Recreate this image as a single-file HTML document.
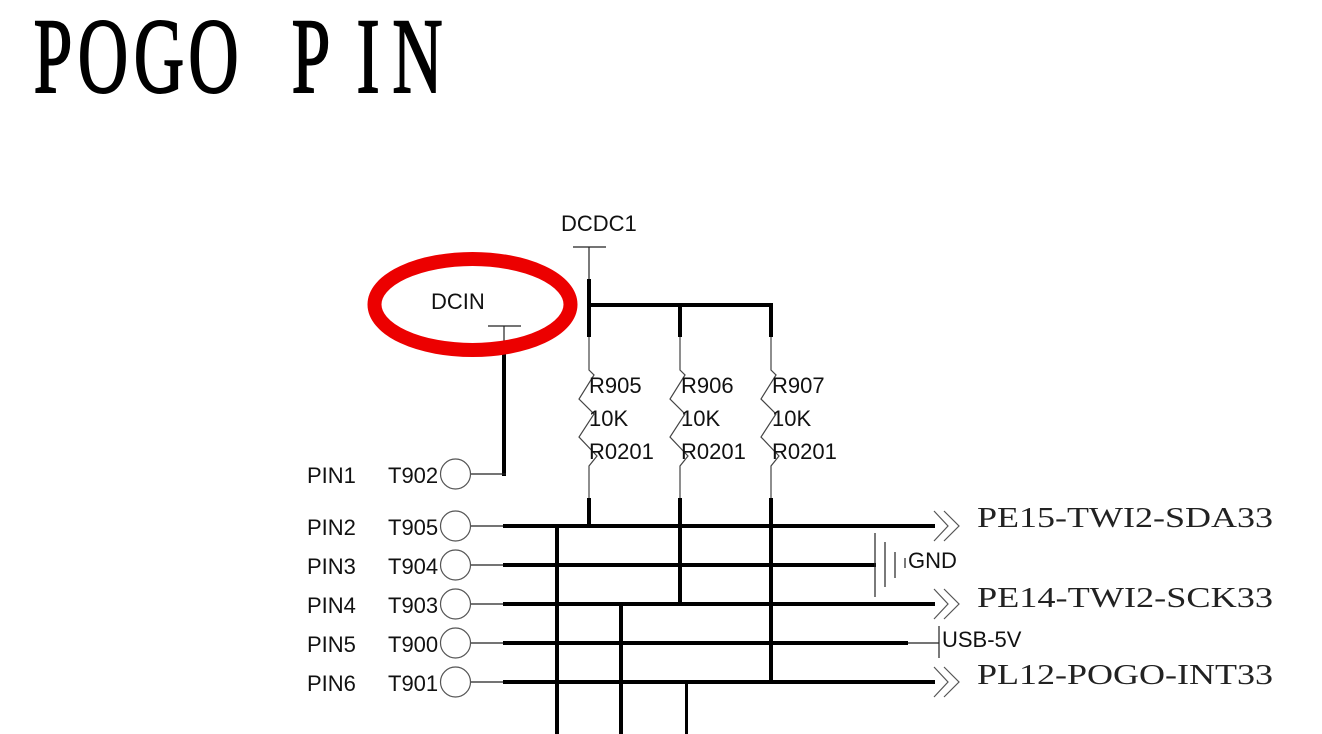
<!DOCTYPE html>
<html>
<head>
<meta charset="utf-8">
<style>
html,body{margin:0;padding:0;background:#fff;}
svg{display:block;}
.s{font-family:"Liberation Sans",Arial,sans-serif;font-size:22px;fill:#111;}
.n{font-family:"Liberation Serif","Times New Roman",serif;font-size:28px;fill:#222;}
.t{font-family:"Liberation Serif","Times New Roman",serif;font-size:107px;fill:#000;stroke:#000;stroke-width:2;}
</style>
</head>
<body>
<svg width="1322" height="734" viewBox="0 0 1322 734" xmlns="http://www.w3.org/2000/svg">
<rect width="1322" height="734" fill="#fff"/>
<!-- Title -->
<g transform="scale(0.65,1)" class="t" text-anchor="middle">
<text x="81.5" y="92">P</text>
<text x="158.5" y="92">O</text>
<text x="244.6" y="92">G</text>
<text x="328.5" y="92">O</text>
<text x="478.5" y="92">P</text>
<text x="566.2" y="92">I</text>
<text x="642.3" y="92">N</text>
</g>

<!-- DCDC1 -->
<text class="s" x="561" y="231">DCDC1</text>
<line x1="573" y1="247" x2="606" y2="247" stroke="#222" stroke-width="1.2"/>
<line x1="589" y1="247" x2="589" y2="280" stroke="#222" stroke-width="1.2"/>
<line x1="589" y1="279" x2="589" y2="337" stroke="#000" stroke-width="4"/>
<line x1="589" y1="305" x2="773" y2="305" stroke="#000" stroke-width="4"/>
<line x1="680" y1="305" x2="680" y2="337" stroke="#000" stroke-width="4"/>
<line x1="771" y1="305" x2="771" y2="337" stroke="#000" stroke-width="4"/>

<!-- Resistors -->
<g fill="none" stroke="#444" stroke-width="1.2">
<polyline points="589,337 589,370 594,375 579,399 594,414 579,437 597,456 589,466 589,498"/>
<polyline points="680,337 680,370 685,375 670,399 685,414 670,437 688,456 680,466 680,498"/>
<polyline points="771,337 771,370 776,375 761,399 776,414 761,437 779,456 771,466 771,498"/>
</g>
<line x1="589" y1="498" x2="589" y2="528" stroke="#000" stroke-width="4"/>
<line x1="680" y1="498" x2="680" y2="606" stroke="#000" stroke-width="4"/>
<line x1="771" y1="498" x2="771" y2="684" stroke="#000" stroke-width="4"/>

<text class="s" x="589" y="393">R905</text>
<text class="s" x="589" y="426">10K</text>
<text class="s" x="589" y="459">R0201</text>
<text class="s" x="681" y="393">R906</text>
<text class="s" x="681" y="426">10K</text>
<text class="s" x="681" y="459">R0201</text>
<text class="s" x="772" y="393">R907</text>
<text class="s" x="772" y="426">10K</text>
<text class="s" x="772" y="459">R0201</text>

<!-- DCIN -->
<text class="s" x="431" y="309">DCIN</text>
<line x1="488" y1="326" x2="521" y2="326" stroke="#222" stroke-width="1.2"/>
<line x1="504" y1="326" x2="504" y2="356" stroke="#222" stroke-width="1.2"/>
<line x1="504" y1="354" x2="504" y2="476" stroke="#000" stroke-width="4"/>
<line x1="471" y1="474" x2="506" y2="474" stroke="#222" stroke-width="1.2"/>
<ellipse cx="472.5" cy="304.5" rx="98" ry="45.5" fill="none" stroke="#ec0000" stroke-width="14"/>

<!-- Pins -->
<g class="s">
<text x="307" y="483">PIN1</text><text x="388" y="483">T902</text>
<text x="307" y="535">PIN2</text><text x="388" y="535">T905</text>
<text x="307" y="574">PIN3</text><text x="388" y="574">T904</text>
<text x="307" y="613">PIN4</text><text x="388" y="613">T903</text>
<text x="307" y="652">PIN5</text><text x="388" y="652">T900</text>
<text x="307" y="691">PIN6</text><text x="388" y="691">T901</text>
</g>
<g fill="none" stroke="#555" stroke-width="1.2">
<circle cx="455.5" cy="474" r="15"/>
<circle cx="455.5" cy="526" r="15"/>
<circle cx="455.5" cy="565" r="15"/>
<circle cx="455.5" cy="604" r="15"/>
<circle cx="455.5" cy="643" r="15"/>
<circle cx="455.5" cy="682" r="15"/>
</g>
<g stroke="#222" stroke-width="1.2">
<line x1="471" y1="526" x2="504" y2="526"/>
<line x1="471" y1="565" x2="504" y2="565"/>
<line x1="471" y1="604" x2="504" y2="604"/>
<line x1="471" y1="643" x2="504" y2="643"/>
<line x1="471" y1="682" x2="504" y2="682"/>
</g>
<g stroke="#000" stroke-width="4">
<line x1="503" y1="526" x2="935" y2="526"/>
<line x1="503" y1="565" x2="876" y2="565"/>
<line x1="503" y1="604" x2="935" y2="604"/>
<line x1="503" y1="643" x2="908" y2="643"/>
<line x1="503" y1="682" x2="935" y2="682"/>
<line x1="557" y1="524" x2="557" y2="734"/>
<line x1="621" y1="602" x2="621" y2="734"/>
</g>
<line x1="686.5" y1="680" x2="686.5" y2="734" stroke="#000" stroke-width="3"/>

<!-- GND -->
<g stroke="#222" stroke-width="1.2">
<line x1="875" y1="533" x2="875" y2="597"/>
<line x1="885" y1="542" x2="885" y2="587"/>
<line x1="895" y1="552" x2="895" y2="578"/>
<line x1="905" y1="558" x2="905" y2="568"/>
</g>
<text class="s" x="908" y="568">GND</text>

<!-- USB-5V -->
<line x1="908" y1="643" x2="939" y2="643" stroke="#222" stroke-width="1.2"/>
<line x1="939" y1="626" x2="939" y2="658" stroke="#222" stroke-width="1.2"/>
<text class="s" x="942" y="647">USB-5V</text>

<!-- Arrows -->
<g fill="none" stroke="#555" stroke-width="1.2">
<polyline points="934,511 948,526 934,541"/>
<polyline points="944,511 959,526 944,541"/>
<polyline points="934,589 948,604 934,619"/>
<polyline points="944,589 959,604 944,619"/>
<polyline points="934,667 948,682 934,697"/>
<polyline points="944,667 959,682 944,697"/>
</g>
<text class="n" x="977" y="527" textLength="296" lengthAdjust="spacingAndGlyphs">PE15-TWI2-SDA33</text>
<text class="n" x="977" y="607" textLength="296" lengthAdjust="spacingAndGlyphs">PE14-TWI2-SCK33</text>
<text class="n" x="977" y="684" textLength="296" lengthAdjust="spacingAndGlyphs">PL12-POGO-INT33</text>
</svg>
</body>
</html>
